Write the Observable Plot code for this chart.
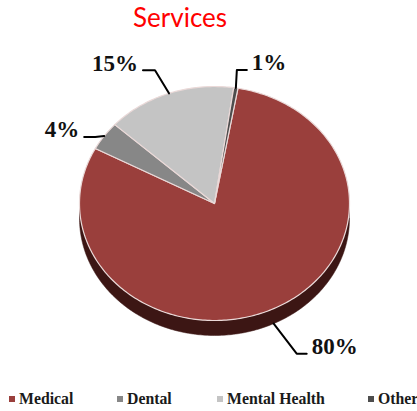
<!DOCTYPE html>
<html><head><meta charset="utf-8">
<script src="https://cdn.jsdelivr.net/npm/d3@7"></script>
<script src="https://cdn.jsdelivr.net/npm/@observablehq/plot@0.6"></script>
<style>
html,body{margin:0;padding:0;background:#fff;overflow:hidden;width:417px;height:411px}
#title{height:38px;margin-left:133px;margin-top:-2px;margin-bottom:2px;font:26px/38px Lato,sans-serif;color:#ff0000;white-space:nowrap}
#chart svg{display:block}
#legend{position:relative;height:38px;font:bold 15.8px/18px "Liberation Serif",serif;color:#1a1a1a;white-space:nowrap}
#legend span.item{position:absolute;top:17px}
#legend i{display:inline-block;width:6px;height:6px;margin-right:4px;vertical-align:2px}
</style></head><body>
<div id="title"></div>
<div id="chart"></div>
<div id="legend"></div>
<script>
const titleText = "Services";
const categories = ["Medical", "Dental", "Mental Health", "Other"];
const values = [80, 4, 15.5, 0.5];
const labels = ["80%", "4%", "15%", "1%"];
const colors = ["#9a3f3c", "#878787", "#c4c4c4", "#4d4d4d"];
const legendLeft = [9, 117, 217, 368];
// leader layout: pixel offset of the elbow from the slice's edge, then horizontal run
const elbowOffset = [[23, 30], [-9, 1], [-14, -23], [1, -18]];
const elbowRun = [10, -11, -12, 10];

const W = 417, H = 335, cx = 214, cy = 165, rx = 135, ry = 117, depth = 15, startDeg = 10;

const total = d3.sum(values);
const rad = a => a * Math.PI / 180;
const edge = a => [Math.sin(a), Math.cos(a)];

let cum = rad(startDeg);
const slices = categories.map((c, i) => {
  const a0 = cum, a1 = cum + 2 * Math.PI * values[i] / total;
  cum = a1;
  return {c, i, a0, a1, mid: (a0 + a1) / 2};
});

const slicePts = [];
for (const s of slices) {
  slicePts.push({c: s.c, x: 0, y: 0});
  const n = Math.max(2, Math.ceil((s.a1 - s.a0) / rad(1)));
  for (const t of d3.range(n + 1)) {
    const [x, y] = edge(s.a0 + (s.a1 - s.a0) * t / n);
    slicePts.push({c: s.c, x, y});
  }
  slicePts.push({c: s.c, x: 0, y: 0});
}

// extruded rim below the disc
const rimPts = [];
for (const t of d3.range(0, 181)) {
  const a = rad(90 + t);
  rimPts.push({x: Math.sin(a), y: Math.cos(a)});
}
for (const t of d3.range(180, -1, -1)) {
  const a = rad(90 + t);
  rimPts.push({x: Math.sin(a), y: Math.cos(a) - depth / ry});
}

const leaderPts = [], labelPts = [];
slices.forEach(s => {
  const [ex, ey0] = edge(s.mid);
  const ey = ey0 < 0 ? ey0 - depth / ry : ey0;
  const bx = ex + elbowOffset[s.i][0] / rx, by = ey - elbowOffset[s.i][1] / ry;
  const tx = bx + elbowRun[s.i] / rx;
  leaderPts.push({c: s.c, x: ex, y: ey}, {c: s.c, x: bx, y: by}, {c: s.c, x: tx, y: by});
  labelPts.push({label: labels[s.i], x: tx, y: by, right: elbowRun[s.i] > 0});
});

const labelFont = {x: "x", y: "y", text: "label", dy: -7, fontSize: 23, fontWeight: "bold", fontFamily: "Liberation Serif", fill: "#111"};
const plot = Plot.plot({
  width: W, height: H, margin: 0,
  x: {domain: [-cx / rx, (W - cx) / rx], range: [0, W], axis: null},
  y: {domain: [cy / ry, (cy - H) / ry], range: [0, H], axis: null},
  color: {domain: categories, range: colors},
  marks: [
    Plot.line(rimPts, {x: "x", y: "y", fill: "#3c1614", stroke: "#3c1614", strokeWidth: 0.5, curve: "linear"}),
    Plot.line(slicePts, {x: "x", y: "y", z: "c", fill: "c", stroke: "#ead9d8", strokeWidth: 1.2, curve: "linear"}),
    Plot.line(leaderPts, {x: "x", y: "y", z: "c", stroke: "#000", strokeWidth: 2, curve: "linear"}),
    Plot.text(labelPts.filter(d => d.right), {...labelFont, textAnchor: "start", dx: 5}),
    Plot.text(labelPts.filter(d => !d.right), {...labelFont, textAnchor: "end", dx: -5})
  ]
});
document.getElementById("chart").appendChild(plot);
document.getElementById("title").textContent = titleText;
const lg = document.getElementById("legend");
categories.forEach((c, i) => {
  const s = document.createElement("span");
  s.className = "item";
  s.style.left = legendLeft[i] + "px";
  const k = document.createElement("i");
  k.style.background = colors[i];
  s.appendChild(k);
  s.appendChild(document.createTextNode(c));
  lg.appendChild(s);
});
</script>
</body></html>
